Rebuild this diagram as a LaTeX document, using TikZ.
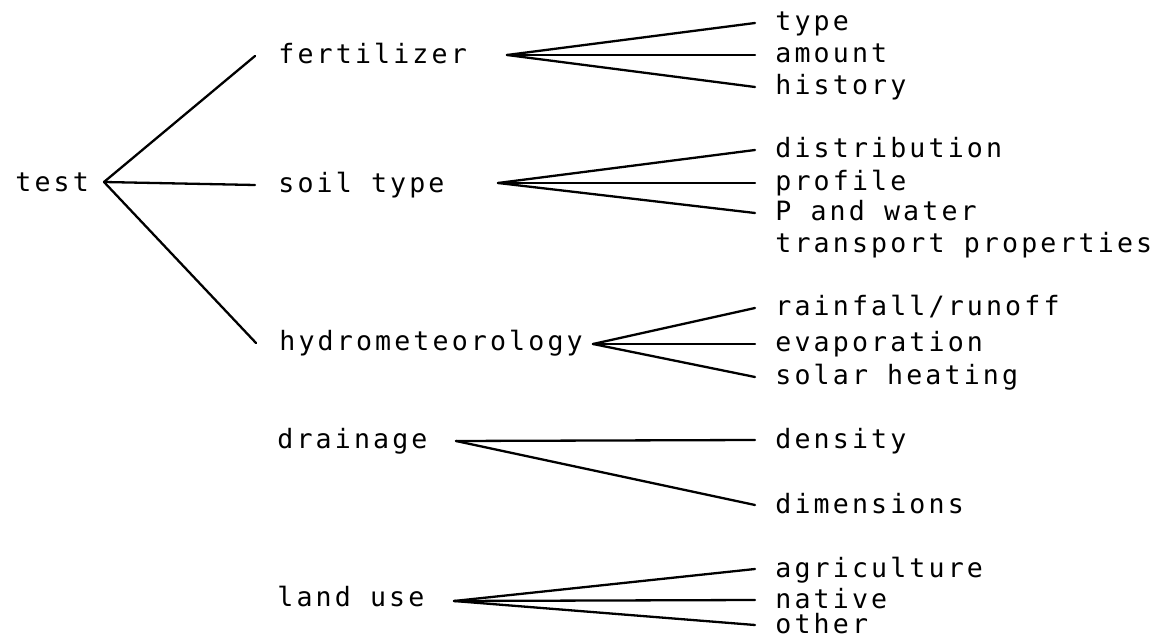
\documentclass[tikz,border=0pt]{standalone}
\usepackage{fontspec}
\newfontfamily\twfont[LetterSpace=11.8]{DejaVu Sans Mono}
\begin{document}
\begin{tikzpicture}[x=0.5pt,y=-0.5pt,
  txt/.style={font=\twfont\fontsize{13.3}{16}\selectfont},
  lbl/.style={txt, inner xsep=10pt, inner ysep=0pt, text height=8pt, text depth=0pt, anchor=west},
  mid/.style={lbl, inner xsep=11.5pt},
  plain/.style={txt, inner sep=0pt, anchor=base west},
  conn/.style={line width=1.15pt, line cap=round}]
\useasboundingbox (0,0) rectangle (1160,640);
% root and first level
\node[plain] (test) at (15,192) {test};
\coordinate (jt) at (104,182);
\node[mid] (fert) at (255,56) {fertilizer};
\node[mid] (soil) at (255,185) {soil type};
\node[mid] (hydro) at (256,343) {hydrometeorology};
\node[plain] (drain) at (277,448) {drainage};
\node[plain] (land) at (277,606) {land use};
% fan junctions
\coordinate (jf) at (507,55);
\coordinate (js) at (498,183);
\coordinate (jh) at (593,344);
\coordinate (jd) at (456,441);
\coordinate (jl) at (454,601);
% leaves
\node[lbl] (type) at (755,23) {type};
\node[lbl] (amount) at (755,55) {amount};
\node[lbl] (history) at (755,87) {history};
\node[lbl] (distr) at (755,150) {distribution};
\node[lbl] (profile) at (755,183) {profile};
\node[lbl] (pwater) at (755,213) {P and water};
\node[plain] (transp) at (775,253) {transport properties};
\node[lbl] (rain) at (755,308) {rainfall/runoff};
\node[lbl] (evap) at (755,344) {evaporation};
\node[lbl] (solar) at (755,377) {solar heating};
\node[lbl] (density) at (755,440) {density};
\node[lbl] (dims) at (755,505) {dimensions};
\node[lbl] (agri) at (755,569) {agriculture};
\node[lbl] (native) at (755,600) {native};
\node[lbl] (other) at (755,625) {other};
% connectors
\draw[conn] (jt) -- (fert.west);
\draw[conn] (jt) -- (soil.west);
\draw[conn] (jt) -- (hydro.west);
\draw[conn] (jf) -- (type.west);
\draw[conn] (jf) -- (amount.west);
\draw[conn] (jf) -- (history.west);
\draw[conn] (js) -- (distr.west);
\draw[conn] (js) -- (profile.west);
\draw[conn] (js) -- (pwater.west);
\draw[conn] (jh) -- (rain.west);
\draw[conn] (jh) -- (evap.west);
\draw[conn] (jh) -- (solar.west);
\draw[conn] (jd) -- (density.west);
\draw[conn] (jd) -- (dims.west);
\draw[conn] (jl) -- (agri.west);
\draw[conn] (jl) -- (native.west);
\draw[conn] (jl) -- (other.west);
\end{tikzpicture}
\end{document}
